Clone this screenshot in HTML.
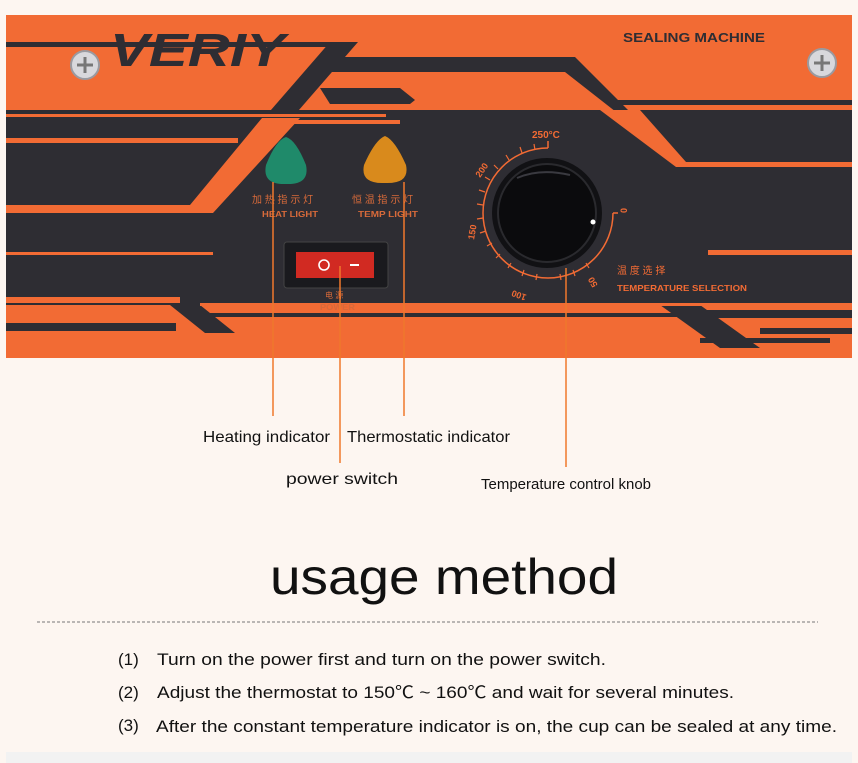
<!DOCTYPE html>
<html><head><meta charset="utf-8"><style>
html,body{margin:0;padding:0;background:#fdf6f1;}
svg{display:block}
text{font-family:"Liberation Sans","Noto Sans CJK SC",sans-serif}
</style></head><body>
<svg width="858" height="763" viewBox="0 0 858 763" xmlns="http://www.w3.org/2000/svg">
<rect width="858" height="763" fill="#fdf6f1"/>
<!-- panel -->
<rect x="6" y="15" width="846" height="343" fill="#f26b34"/>
<g fill="#2e2d33">
 <rect x="6" y="42" width="330" height="5"/>
 <polygon points="330,42 358,42 292,118 264,118"/>
 <polygon points="325,57 575,57 640,122 852,122 852,162 680,162 565,72 325,72"/>
 <polygon points="320,88 400,88 415,100 410,104 330,104"/>
 <rect x="612" y="100" width="240" height="5"/>
 <rect x="6" y="110" width="846" height="195"/>
 <rect x="200" y="313" width="652" height="4"/>
 <rect x="6" y="323" width="170" height="8"/>
 <polygon points="170,305 200,305 235,333 205,333"/>
 <polygon points="700,310 852,310 852,318 712,318"/>
 <polygon points="660,305 700,305 760,348 720,348"/>
 <rect x="760" y="328" width="92" height="6"/>
 <rect x="700" y="338" width="130" height="5"/>
</g>
<g fill="#f26b34">
 <rect x="6" y="114" width="380" height="3"/>
 <rect x="6" y="138" width="232" height="5"/>
 <polygon points="262,118 300,118 213,213 6,213 6,205 190,205"/>
 <rect x="280" y="120" width="120" height="4"/>
 <polygon points="600,110 640,110 686,162 852,162 852,167 676,167"/>
 <rect x="6" y="252" width="207" height="3"/>
 <rect x="708" y="250" width="144" height="5"/>
 <rect x="6" y="297" width="174" height="6"/>
 <rect x="200" y="303" width="652" height="3"/>
</g>
<!-- logo -->
<text x="110" y="66" font-size="46" font-weight="bold" font-style="italic" fill="#2e2d33" textLength="175" lengthAdjust="spacingAndGlyphs">VERIY</text>
<text x="623" y="42" font-size="13" font-weight="bold" fill="#2e2d33" textLength="142" lengthAdjust="spacingAndGlyphs">SEALING MACHINE</text>
<!-- screws -->
<circle cx="85" cy="65" r="14" fill="#d8d8dc" stroke="#9a9aa0" stroke-width="2"/>
<path d="M77 65h16M85 57v16" stroke="#777" stroke-width="3"/>
<circle cx="822" cy="63" r="14" fill="#d8d8dc" stroke="#9a9aa0" stroke-width="2"/>
<path d="M814 63h16M822 55v16" stroke="#777" stroke-width="3"/>
<!-- lights -->
<path d="M286 137 Q276 140 266 165 Q262 185 286 184 Q310 185 306 165 Q296 140 286 137Z" fill="#1f8a6a"/>
<path d="M385 136 Q375 140 364 165 Q360 184 385 183 Q410 184 406 165 Q395 140 385 136Z" fill="#d98a1c"/>
<text x="252" y="203" font-size="10" fill="#d86a3a">加 热 指 示 灯</text>
<text x="262" y="217" font-size="8.5" font-weight="bold" fill="#d86a3a" textLength="56" lengthAdjust="spacingAndGlyphs">HEAT LIGHT</text>
<text x="352" y="203" font-size="10" fill="#d86a3a">恒 温 指 示 灯</text>
<text x="358" y="217" font-size="8.5" font-weight="bold" fill="#d86a3a" textLength="60" lengthAdjust="spacingAndGlyphs">TEMP LIGHT</text>
<!-- switch -->
<rect x="284" y="242" width="104" height="46" rx="3" fill="#1a1a1e" stroke="#444" stroke-width="1"/>
<rect x="296" y="252" width="78" height="26" fill="#d12a22"/>
<circle cx="324" cy="265" r="5" fill="none" stroke="#fff" stroke-width="1.6"/>
<rect x="350" y="264" width="9" height="2" fill="#fff"/>
<text x="325" y="298" font-size="8" fill="#d86a3a">电 源</text>
<text x="320" y="310" font-size="8.5" font-weight="bold" fill="#d86a3a" textLength="35" lengthAdjust="spacingAndGlyphs">POWER</text>
<!-- knob -->
<path d="M548 148 A65 65 0 1 0 613 213" fill="none" stroke="#f26b34" stroke-width="1.5"/>
<path d="M548 148v-7M613 213h5" stroke="#f26b34" stroke-width="1.5"/>
<g stroke="#f26b34" stroke-width="1.2">
<path d="M535 150l-1-6M522 153l-2-6M509 160l-3-5M498 169l-4-4M490 180l-5-3M485 192l-6-2M483 205l-6-1M483 218l-6 1M486 231l-6 2M492 243l-5 3M500 254l-4 4M511 263l-3 5M524 270l-2 6M537 274l-1 6M560 274l1 6M573 270l2 6M586 263l3 5"/>
</g>
<text x="532" y="138" font-size="10" font-weight="bold" fill="#f26b34">250°C</text>
<text x="0" y="0" font-size="9" font-weight="bold" fill="#f26b34" transform="translate(480,178) rotate(-55)">200</text>
<text x="0" y="0" font-size="9" font-weight="bold" fill="#f26b34" transform="translate(474,240) rotate(-80)">150</text>
<text x="0" y="0" font-size="9" font-weight="bold" fill="#f26b34" transform="translate(527,295) rotate(200)">100</text>
<text x="0" y="0" font-size="9" font-weight="bold" fill="#f26b34" transform="translate(598,285) rotate(240)">50</text>
<text x="0" y="0" font-size="9" font-weight="bold" fill="#f26b34" transform="translate(627,213) rotate(-90)">0</text>
<circle cx="547" cy="213" r="55" fill="#111114"/>
<circle cx="547" cy="213" r="49" fill="#0b0b0d" stroke="#2a2a2e" stroke-width="2"/>
<path d="M517 178 Q540 168 570 175" stroke="#3a3a40" stroke-width="2" fill="none"/>
<circle cx="593" cy="222" r="2.5" fill="#fff"/>
<text x="617" y="274" font-size="10" fill="#f26b34">温 度 选 择</text>
<text x="617" y="291" font-size="8.5" font-weight="bold" fill="#f26b34" textLength="130" lengthAdjust="spacingAndGlyphs">TEMPERATURE SELECTION</text>
<!-- leader lines -->
<g stroke="#f0782c" stroke-width="1.5">
<line x1="273" y1="182" x2="273" y2="416"/>
<line x1="340" y1="266" x2="340" y2="463"/>
<line x1="404" y1="182" x2="404" y2="416"/>
<line x1="566" y1="268" x2="566" y2="467"/>
</g>
<!-- labels -->
<g font-size="16" fill="#111">
<text x="203" y="442" textLength="127" lengthAdjust="spacingAndGlyphs">Heating indicator</text>
<text x="347" y="442" textLength="163" lengthAdjust="spacingAndGlyphs">Thermostatic indicator</text>
<text x="286" y="484" textLength="112" lengthAdjust="spacingAndGlyphs">power switch</text>
<text x="481" y="489" font-size="15" textLength="170" lengthAdjust="spacingAndGlyphs">Temperature control knob</text>
</g>
<text x="270" y="594" font-size="50" fill="#111" textLength="348" lengthAdjust="spacingAndGlyphs">usage method</text>
<line x1="37" y1="622" x2="818" y2="622" stroke="#777" stroke-width="1" stroke-dasharray="3,2"/>
<g font-size="17" fill="#111">
<text x="118" y="665">(1)</text>
<text x="157" y="665" textLength="449" lengthAdjust="spacingAndGlyphs">Turn on the power first and turn on the power switch.</text>
<text x="118" y="698">(2)</text>
<text x="157" y="698" textLength="577" lengthAdjust="spacingAndGlyphs">Adjust the thermostat to 150℃ ~ 160℃ and wait for several minutes.</text>
<text x="118" y="731">(3)</text>
<text x="156" y="732" textLength="681" lengthAdjust="spacingAndGlyphs">After the constant temperature indicator is on, the cup can be sealed at any time.</text>
</g>
<rect x="6" y="752" width="846" height="11" fill="#f2f2f2"/>
</svg>
</body></html>
